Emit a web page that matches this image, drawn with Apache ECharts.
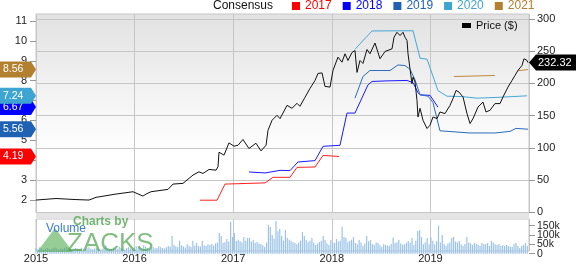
<!DOCTYPE html>
<html><head><meta charset="utf-8">
<script src="https://cdn.jsdelivr.net/npm/echarts@6/dist/echarts.min.js"></script>
<style>html,body{margin:0;padding:0;background:#fff}#c{width:576px;height:264px}</style>
</head><body><div id="c"></div>
<script>
// ---- data (time as decimal years) ----
const yearTicks = [2015, 2016, 2017, 2018, 2019];
const volTicks = [0, 50000, 100000, 150000];
const priceT = [2015.000,2015.203,2015.396,2015.538,2015.609,2015.811,2015.984,2016.085,2016.116,2016.166,2016.339,2016.389,2016.491,2016.592,2016.653,2016.694,2016.755,2016.826,2016.846,2016.856,2016.907,2016.957,2017.008,2017.049,2017.099,2017.160,2017.231,2017.282,2017.333,2017.353,2017.394,2017.444,2017.475,2017.546,2017.596,2017.647,2017.677,2017.728,2017.779,2017.830,2017.860,2017.901,2017.931,2017.982,2018.012,2018.063,2018.103,2018.134,2018.164,2018.205,2018.235,2018.256,2018.286,2018.316,2018.357,2018.387,2018.438,2018.489,2018.540,2018.611,2018.631,2018.661,2018.692,2018.722,2018.742,2018.763,2018.773,2018.793,2018.813,2018.824,2018.844,2018.864,2018.874,2018.895,2018.925,2018.966,2018.996,2019.026,2019.067,2019.097,2019.148,2019.199,2019.229,2019.260,2019.290,2019.331,2019.371,2019.402,2019.432,2019.483,2019.533,2019.564,2019.604,2019.655,2019.706,2019.736,2019.787,2019.828,2019.858,2019.888,2019.929,2019.949,2019.980,2019.990];
const priceV = [19.0,21.4,19.8,19.0,23.2,28.3,31.9,25.2,28.3,31.9,35.6,43.8,44.9,57.7,62.8,60.3,66.5,65.4,70.6,93.3,88.7,107.7,102.6,104.1,113.0,99.0,107.2,95.3,104.1,127.3,142.8,150.5,145.4,166.0,161.4,169.1,164.5,178.4,192.3,204.7,215.5,216.3,195.4,194.3,220.2,240.8,233.0,246.0,235.6,248.0,251.1,217.1,235.6,231.0,252.7,246.0,262.7,238.3,249.6,253.8,271.7,279.4,274.3,279.4,271.7,266.6,246.0,222.8,199.6,209.8,202.1,173.8,147.9,161.4,142.8,130.0,135.1,147.9,145.4,155.7,153.2,166.0,176.4,189.2,186.6,178.9,153.2,137.7,145.4,163.4,171.1,155.7,158.3,168.7,168.7,178.9,194.3,204.7,212.4,220.2,227.9,238.3,235.6,232.32];

const eps2017T = [2016.663,2016.836,2016.917,2017.323,2017.404,2017.576,2017.647,2017.830,2017.911,2018.073];
const eps2017V = [1.99,1.99,2.80,2.86,3.14,3.14,3.64,3.66,4.24,4.19];
const eps2018T = [2017.160,2017.323,2017.475,2017.576,2017.657,2017.830,2017.911,2018.083,2018.154,2018.235,2018.367,2018.408,2018.560,2018.763,2018.824,2018.874,2018.895,2018.996,2019.077];
const eps2018V = [3.41,3.36,3.49,3.48,3.91,3.98,4.70,4.75,6.37,6.37,7.79,7.96,7.99,8.01,7.90,7.40,7.29,7.26,6.67];
const eps2019T = [2018.235,2018.316,2018.387,2018.590,2018.671,2018.742,2018.793,2018.844,2018.895,2018.976,2019.026,2019.097,2019.402,2019.655,2019.807,2019.868,2019.990];
const eps2019V = [7.12,8.21,8.51,8.51,8.79,8.76,8.58,8.04,7.29,7.22,6.90,5.48,5.37,5.37,5.45,5.60,5.56];
const eps2020T = [2018.235,2018.408,2018.824,2018.895,2018.966,2019.077,2019.168,2019.320,2019.473,2019.635,2019.838,2019.980];
const eps2020V = [9.58,10.50,10.51,9.13,9.08,7.50,7.22,7.20,7.12,7.15,7.20,7.24];
const eps2021T = [2019.239,2019.655,2019.700,2019.888,2019.990];
const eps2021V = [8.21,8.26,null,8.50,8.56];

const epsKeys = ['2017','2018','2019','2020','2021'];
const epsLatest = {'2017':4.19,'2018':6.67,'2019':5.56,'2020':7.24,'2021':8.56};
const lastPrice = 232.32;

// weekly volume, thousands
const vol2015 = [30,26,35,28,22,25,31,27,24,29,33,26,22,28,25,30,36,27,24,21,26,30,28,25,32,27,23,29,34,26,24,28,31,25,22,27,30,45,28,24,26,33,29,25,38,31,27,24,30,35,28,26];
const vol2016 = [32,40,28,35,30,45,38,30,27,33,36,29,31,40,35,30,28,34,42,37,95,48,40,35,70,45,38,33,50,42,36,70,44,57,40,38,68,45,41,50,47,52,44,55,60,111,95,57,62,79,66,171];
const vol2017 = [90,111,68,75,68,60,89,70,84,84,65,73,58,63,55,52,45,36,60,154,143,100,80,175,120,132,95,70,127,84,75,68,62,57,50,60,70,116,95,75,63,70,84,60,47,55,63,70,95,73,55,47];
const vol2018 = [73,60,57,79,65,70,145,90,84,62,68,75,89,57,50,73,60,41,55,95,66,73,52,47,60,57,45,36,50,47,44,41,52,87,57,62,73,55,48,50,58,68,60,84,47,70,121,127,89,50,62,84];
const vol2019 = [50,88,70,50,68,150,60,100,52,41,55,60,84,89,65,60,68,50,41,52,89,60,55,47,57,52,48,41,57,52,50,57,41,68,60,50,47,52,41,45,41,47,41,38,36,52,59,41,30,41,47,57,41];

const epsT = {'2017': eps2017T, '2018': eps2018T, '2019': eps2019T, '2020': eps2020T, '2021': eps2021T};
const epsV = {'2017': eps2017V, '2018': eps2018V, '2019': eps2019V, '2020': eps2020V, '2021': eps2021V};
const epsColors = {'2017':'#ff0000','2018':'#0000ff','2019':'#1f62b4','2020':'#3ea4d2','2021':'#b3802f'};
const lineColors = {'2017':'#ff2020','2018':'#1a1aff','2019':'#2a6cbc','2020':'#45a9d6','2021':'#c08a36'};

// ---- build ----
const zip = (t, v) => t.map((x, i) => [x, v[i]]);
const volAll = [].concat(vol2015, vol2016, vol2017, vol2018, vol2019);
const volData = volAll.map((v, i) => [2015 + i / 52.18, v * 1000]);

const FONT = 'Liberation Sans, Arial, sans-serif';
const L = 36, R = 47;
const chart = echarts.init(document.getElementById('c'), null, {renderer: 'canvas'});

const xBase = {type: 'value', min: 2015, max: 2020, interval: 1};
const epsSeries = epsKeys.map(k => ({
  name: k, type: 'line', xAxisIndex: 3, yAxisIndex: 3,
  data: zip(epsT[k], epsV[k]),
  showSymbol: false, symbol: 'none', clip: false, connectNulls: false,
  color: epsColors[k],
  lineStyle: {color: lineColors[k], width: 1},
  itemStyle: {color: epsColors[k]}, z: 3
}));

const option = {
  animation: false,
  backgroundColor: '#fff',
  textStyle: {fontFamily: FONT},
  grid: [
    {left: L, right: R, top: 14, height: 199, show: true, z: 0,
     backgroundColor: new echarts.graphic.LinearGradient(0, 0, 0, 1, [{offset: 0, color: '#e2e2e2'}, {offset: 0.7, color: '#ffffff'}, {offset: 1, color: '#ffffff'}]),
     borderColor: '#c6c6c6', borderWidth: 1},
    {left: L, right: R, top: 219, height: 35, show: true, z: 0, backgroundColor: '#fff', borderColor: '#c6c6c6', borderWidth: 1},
    {left: L, right: R, top: 19, height: 193.3},
    {left: L, right: R, top: 21, height: 179},
    {left: L, right: R, top: 225.7, height: 28}
  ],
  xAxis: [
    Object.assign({}, xBase, {gridIndex: 0, z: 1, axisLine: {show: false}, axisTick: {show: false}, axisLabel: {show: false},
      splitLine: {show: true, lineStyle: {color: '#c6c6c6', width: 1}}}),
    Object.assign({}, xBase, {gridIndex: 1, z: 1, position: 'bottom', axisLine: {show: false}, axisTick: {show: false},
      axisLabel: {show: true, margin: 2, fontSize: 11, color: '#222', fontFamily: FONT,
        showMinLabel: true, showMaxLabel: true,
        formatter: v => yearTicks.indexOf(v) >= 0 ? String(v) : ''},
      splitLine: {show: true, lineStyle: {color: '#c6c6c6', width: 1}}}),
    Object.assign({}, xBase, {gridIndex: 2, show: false}),
    Object.assign({}, xBase, {gridIndex: 3, show: false}),
    Object.assign({}, xBase, {gridIndex: 4, show: false})
  ],
  yAxis: [
    {type: 'value', gridIndex: 0, show: false, min: 0, max: 1},
    {type: 'value', gridIndex: 1, show: false, min: 0, max: 1},
    {type: 'value', gridIndex: 2, position: 'right', min: 0, max: 300, interval: 50, z: 1,
      axisLine: {show: false}, axisTick: {show: true, length: 6, lineStyle: {color: '#999'}},
      axisLabel: {margin: 8, fontSize: 11, color: '#222', fontFamily: FONT, showMinLabel: true, showMaxLabel: true},
      splitLine: {show: true, lineStyle: {color: '#c6c6c6', width: 1}}},
    {type: 'value', gridIndex: 3, position: 'left', min: 2, max: 11, interval: 1, z: 1,
      axisLine: {show: false}, axisTick: {show: true, length: 6, lineStyle: {color: '#999'}},
      axisLabel: {margin: 9, fontSize: 11, color: '#222', fontFamily: FONT, showMinLabel: true, showMaxLabel: true},
      splitLine: {show: false}},
    {type: 'value', gridIndex: 4, position: 'right', min: 0, max: 150000, interval: 50000, z: 1,
      axisLine: {show: false}, axisTick: {show: true, length: 6, lineStyle: {color: '#999'}},
      axisLabel: {show: false},
      splitLine: {show: false}}
  ],
  legend: [
    {data: epsKeys.map(k => ({name: k, textStyle: {color: epsColors[k]}})),
     left: 292, top: 0, icon: 'rect', itemWidth: 8, itemHeight: 8, itemGap: 11, padding: 0,
     textStyle: {fontSize: 12, fontFamily: FONT}, selectedMode: false},
    {data: ['Price ($)'], left: 462, top: 20, icon: 'rect', itemWidth: 9, itemHeight: 5, padding: 0,
     textStyle: {fontSize: 11, color: '#111', fontFamily: FONT}, selectedMode: false}
  ],
  series: [
    {name: 'Volume', type: 'bar', xAxisIndex: 4, yAxisIndex: 4, data: volData, barWidth: 1.2, clip: false,
     itemStyle: {color: '#9cc3e7'}, z: 2},
    {name: 'Price ($)', type: 'line', xAxisIndex: 2, yAxisIndex: 2, data: zip(priceT, priceV),
     showSymbol: false, symbol: 'none', color: '#000', lineStyle: {color: '#111', width: 1}, itemStyle: {color: '#000'}, z: 4}
  ].concat(epsSeries)
};
chart.setOption(option);

// ---- tags & annotations placed through the chart's own scales ----
const g = [];
g.push({type: 'text', left: 213, top: 0, style: {text: 'Consensus', font: '12px ' + FONT, fill: '#111'}, z: 10});
g.push({type: 'rect', shape: {x: L, y: 213.5, width: 576 - L - R, height: 5}, style: {fill: '#e4e4e4'}, z: 1});
// volume axis labels (dense ticks; placed via the axis scale)
volTicks.forEach(v => {
  const y = chart.convertToPixel({yAxisIndex: 4}, v);
  g.push({type: 'text', x: 537, y: y, style: {text: v === 0 ? '0' : (v / 1000) + 'k', font: '10.5px ' + FONT, fill: '#222', textVerticalAlign: 'middle'}, z: 10});
});
// watermark
g.push({type: 'polygon', shape: {points: [[37, 252], [55, 228], [73, 252]]}, style: {fill: 'rgba(80,170,80,0.6)'}, z: 10});
g.push({type: 'text', x: 67, y: 231, style: {text: 'ZACKS', font: '26px ' + FONT, fill: 'rgba(80,165,80,0.72)', textVerticalAlign: 'top'}, z: 10});
g.push({type: 'text', x: 73, y: 216, style: {text: 'Charts by', font: 'bold 12px ' + FONT, fill: 'rgba(80,165,80,0.8)', textVerticalAlign: 'top'}, z: 10});
g.push({type: 'text', x: 46, y: 223, style: {text: 'Volume', font: '12px ' + FONT, fill: '#3b7fc4', textVerticalAlign: 'top'}, z: 11});

epsKeys.forEach((k, idx) => {
  const y = chart.convertToPixel({yAxisIndex: 3}, epsLatest[k]);
  g.push({type: 'polygon', shape: {points: [[0, y - 8], [31, y - 8], [36, y], [31, y + 8], [0, y + 8]]},
    style: {fill: epsColors[k]}, z: 20 + idx});
  g.push({type: 'text', x: 3, y: y, style: {text: epsLatest[k].toFixed(2), font: '10.5px ' + FONT, fill: '#fff', textVerticalAlign: 'middle'}, z: 20 + idx});
});
const py = chart.convertToPixel({yAxisIndex: 2}, lastPrice);
g.push({type: 'polygon', shape: {points: [[529, py], [536, py - 8], [576, py - 8], [576, py + 8], [536, py + 8]]}, style: {fill: '#000'}, z: 20});
g.push({type: 'text', x: 538, y: py, style: {text: lastPrice.toFixed(2), font: '11px ' + FONT, fill: '#fff', textVerticalAlign: 'middle'}, z: 21});
chart.setOption({graphic: g});
</script>
</body></html>
